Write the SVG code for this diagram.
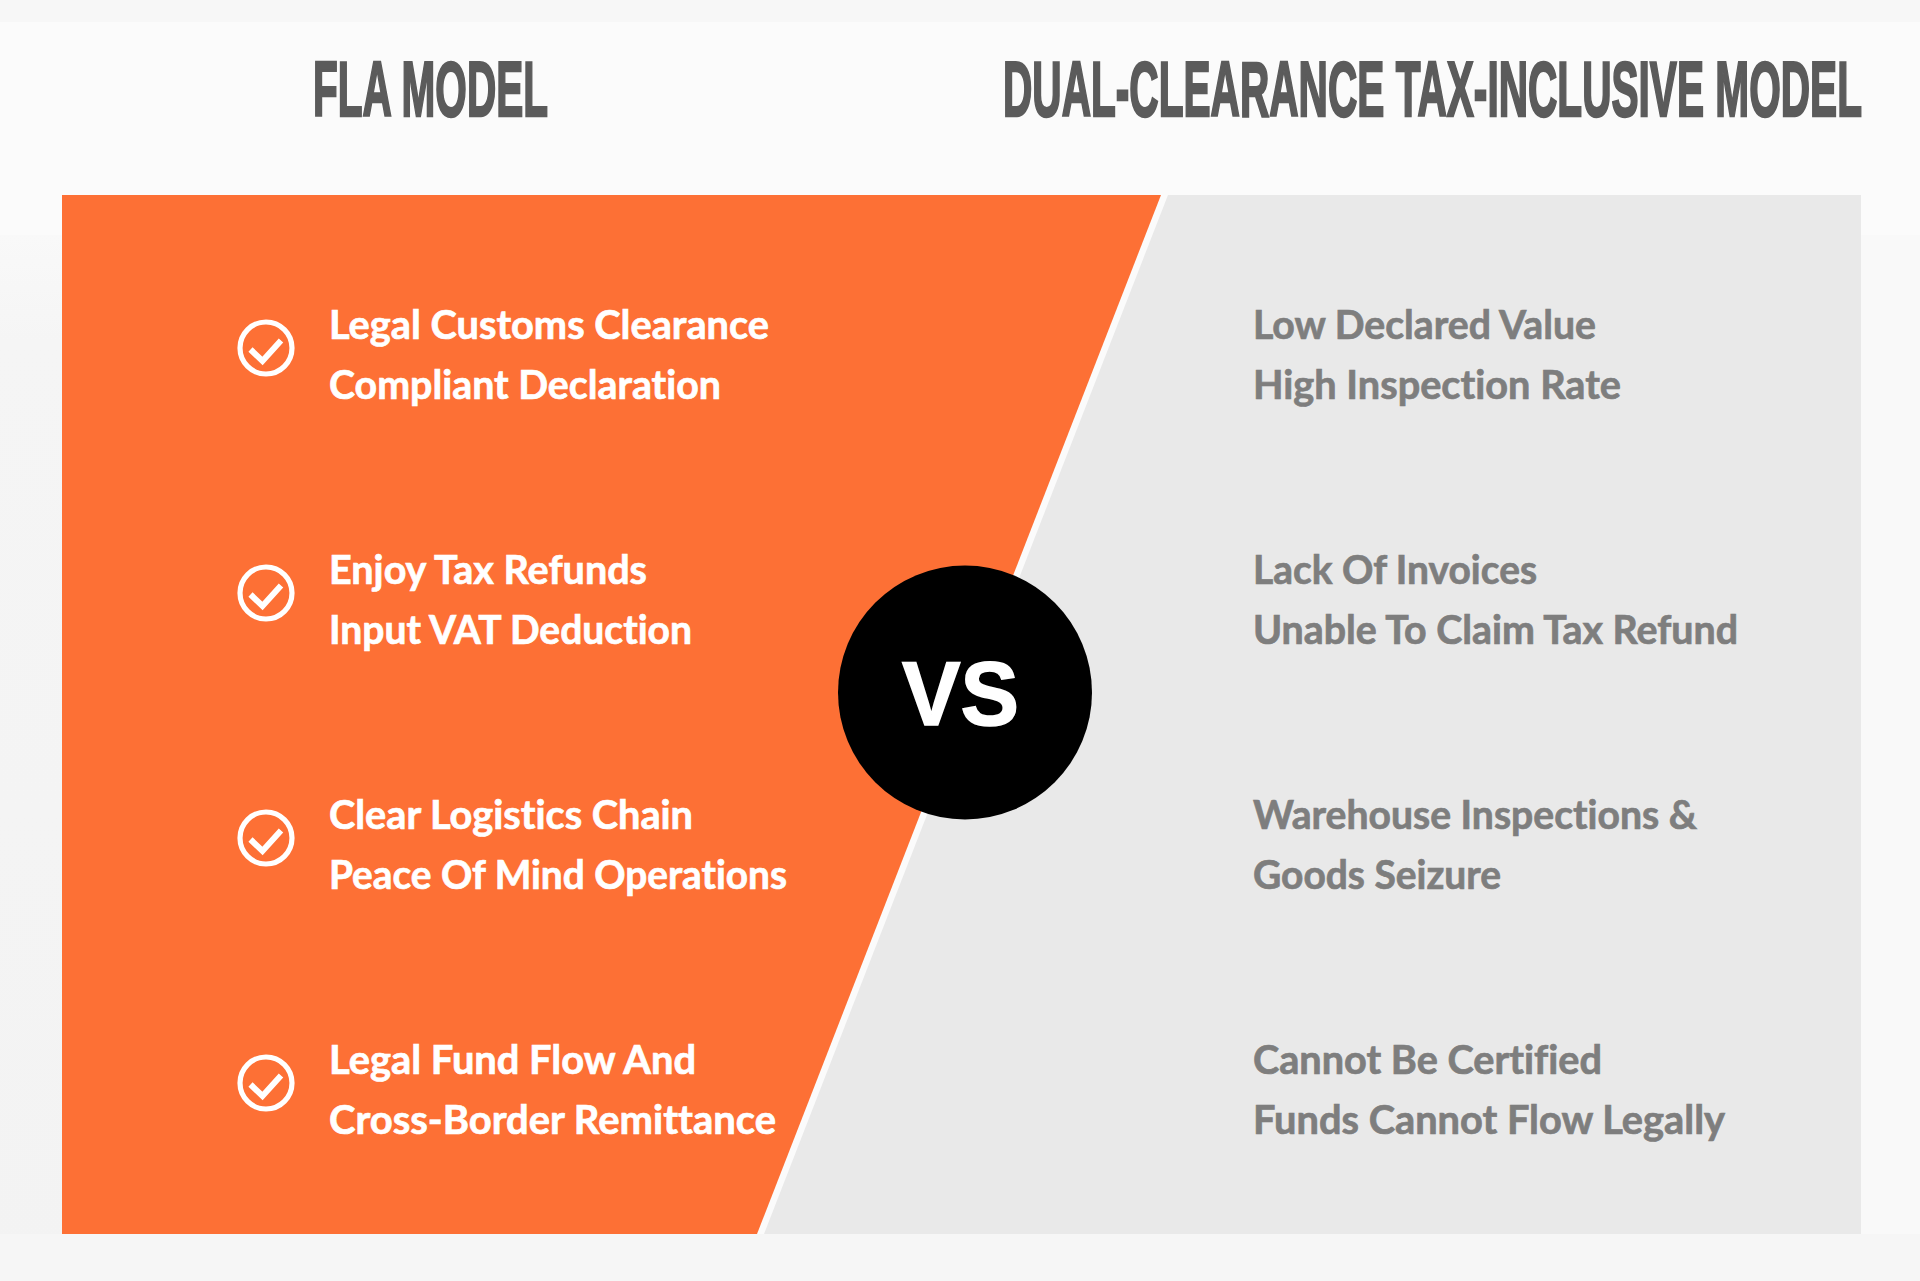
<svg xmlns="http://www.w3.org/2000/svg" width="1920" height="1281" viewBox="0 0 1920 1281">
<defs>
<linearGradient id="sideL" x1="0" y1="0" x2="0" y2="1"><stop offset="0" stop-color="#f9f9f9"/><stop offset="0.1" stop-color="#f5f5f5"/><stop offset="1" stop-color="#f3f3f3"/></linearGradient>
<g id="check"><circle r="26" fill="none" stroke="#fff" stroke-width="5.2"/><path d="M-15.5 1.5L-3.5 13L15 -7.5" fill="none" stroke="#fff" stroke-width="6"/></g>
</defs>
<style>
.title{font-family:"Liberation Sans",Arial,sans-serif;font-weight:700;font-size:77px;fill:#5b5b5b;stroke:#5b5b5b;stroke-width:2.4px}
.t{font-family:Lato,"Noto Sans",sans-serif;font-weight:700;font-size:40px;font-variant-ligatures:none;stroke-width:0.7px}
.w{fill:#fff;stroke:#fff}
.g{fill:#7e7e7e;stroke:#7e7e7e}
</style>
<g id="background">
<rect width="1920" height="1281" fill="#fbfbfb"/>
<rect width="1920" height="22" fill="#f7f7f7"/>
<rect y="235" width="62" height="1046" fill="url(#sideL)"/>
<rect x="1861" y="235" width="59" height="1046" fill="#f9f9f9"/>
<rect y="1234" width="1920" height="47" fill="#f6f6f6"/>
</g>
<g id="connectors"/>
<g id="panel-left"><polygon points="62,195 1161,195 757,1234 62,1234" fill="#fd7035"/></g>
<g id="panel-right"><polygon points="1168,195 1861,195 1861,1234 764,1234" fill="#e9e9e9"/></g>
<g id="title-left"><text class="title" x="313" y="116" textLength="235" lengthAdjust="spacingAndGlyphs">FLA MODEL</text></g>
<g id="title-right"><text class="title" x="1003" y="116" textLength="859" lengthAdjust="spacingAndGlyphs">DUAL-CLEARANCE TAX-INCLUSIVE MODEL</text></g>
<g id="item-l1"><use href="#check" x="266" y="348"/><text class="t w" x="329" y="339" textLength="440" lengthAdjust="spacingAndGlyphs">Legal Customs Clearance</text><text class="t w" x="329" y="399" textLength="392" lengthAdjust="spacingAndGlyphs">Compliant Declaration</text></g>
<g id="item-l2"><use href="#check" x="266" y="593"/><text class="t w" x="329" y="583.5" textLength="318" lengthAdjust="spacingAndGlyphs">Enjoy Tax Refunds</text><text class="t w" x="329" y="643.5" textLength="363" lengthAdjust="spacingAndGlyphs">Input VAT Deduction</text></g>
<g id="item-l3"><use href="#check" x="266" y="838"/><text class="t w" x="329" y="828.5" textLength="364" lengthAdjust="spacingAndGlyphs">Clear Logistics Chain</text><text class="t w" x="329" y="888.5" textLength="458" lengthAdjust="spacingAndGlyphs">Peace Of Mind Operations</text></g>
<g id="item-l4"><use href="#check" x="266" y="1083"/><text class="t w" x="329" y="1073.5" textLength="367" lengthAdjust="spacingAndGlyphs">Legal Fund Flow And</text><text class="t w" x="329" y="1133.5" textLength="447" lengthAdjust="spacingAndGlyphs">Cross-Border Remittance</text></g>
<g id="item-r1"><text class="t g" x="1253" y="339" textLength="343" lengthAdjust="spacingAndGlyphs">Low Declared Value</text><text class="t g" x="1253" y="399" textLength="368" lengthAdjust="spacingAndGlyphs">High Inspection Rate</text></g>
<g id="item-r2"><text class="t g" x="1253" y="583.5" textLength="284" lengthAdjust="spacingAndGlyphs">Lack Of Invoices</text><text class="t g" x="1253" y="643.5" textLength="485" lengthAdjust="spacingAndGlyphs">Unable To Claim Tax Refund</text></g>
<g id="item-r3"><text class="t g" x="1253" y="828.5" textLength="444" lengthAdjust="spacingAndGlyphs">Warehouse Inspections &amp;</text><text class="t g" x="1253" y="888.5" textLength="248" lengthAdjust="spacingAndGlyphs">Goods Seizure</text></g>
<g id="item-r4"><text class="t g" x="1253" y="1073.5" textLength="349" lengthAdjust="spacingAndGlyphs">Cannot Be Certified</text><text class="t g" x="1253" y="1133.5" textLength="472" lengthAdjust="spacingAndGlyphs">Funds Cannot Flow Legally</text></g>
<g id="vs"><circle cx="965" cy="692.5" r="127" fill="#000"/><text x="902" y="724.5" font-family="'Liberation Sans',Arial,sans-serif" font-weight="700" font-size="90" fill="#fff" stroke="#fff" stroke-width="1.6" textLength="117" lengthAdjust="spacingAndGlyphs">VS</text></g>
</svg>
